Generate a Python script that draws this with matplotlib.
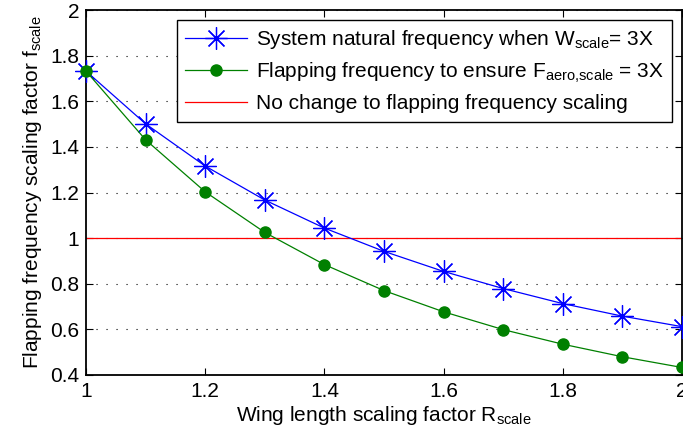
import matplotlib
matplotlib.use("Agg")
import matplotlib.pyplot as plt
from matplotlib.ticker import FixedLocator

plt.rcParams['font.family'] = ['Liberation Sans', 'DejaVu Sans']
plt.rcParams['mathtext.fontset'] = 'custom'
plt.rcParams['mathtext.rm'] = 'Liberation Sans'
plt.rcParams['mathtext.it'] = 'Liberation Sans'

R_scale = [1.0, 1.1, 1.2, 1.3, 1.4, 1.5, 1.6, 1.7, 1.8, 1.9, 2.0]
natural_freq = [1.732, 1.501, 1.316, 1.167, 1.044, 0.942, 0.854, 0.779, 0.713, 0.658, 0.612]
flap_freq = [1.732, 1.431, 1.203, 1.025, 0.884, 0.770, 0.677, 0.599, 0.535, 0.480, 0.433]
no_change = [1.0, 1.0]
no_change_x = [1.0, 2.0]

xticks = [1, 1.2, 1.4, 1.6, 1.8, 2]
xticklabels = ['1', '1.2', '1.4', '1.6', '1.8', '2']
yticks = [0.4, 0.6, 0.8, 1.0, 1.2, 1.4, 1.6, 1.8, 2.0]
yticklabels = ['0.4', '0.6', '0.8', '1', '1.2', '1.4', '1.6', '1.8', '2']

FS = 15

fig = plt.figure(figsize=(6.83, 4.41), dpi=100)
ax = fig.add_axes([86/683, 1-375/441, (682-86)/683, (375-10)/441])

ax.plot(R_scale, natural_freq, color='#0000ff', lw=0.9, marker=(8, 2, 0), ms=16, mew=0.9,
        label='System natural frequency when W$_{\\mathrm{scale}}$= 3X', clip_on=False, zorder=3)
ax.plot(R_scale, flap_freq, color='#008000', lw=0.9, marker='o', ms=8, mfc='#008000', mec='#008000',
        label='Flapping frequency to ensure F$_{\\mathrm{aero{,}scale}}$ = 3X', clip_on=False, zorder=3)
ax.plot(no_change_x, no_change, color='#ff0000', lw=0.9,
        label='No change to flapping frequency scaling', zorder=2)

ax.set_xlim(1, 2)
ax.set_ylim(0.4, 2)
ax.xaxis.set_major_locator(FixedLocator(xticks))
ax.set_xticklabels(xticklabels)
ax.yaxis.set_major_locator(FixedLocator(yticks))
ax.set_yticklabels(yticklabels)
ax.tick_params(direction='in', top=True, right=True, labelsize=FS, length=5, width=0.8, pad=5)
ax.yaxis.grid(True, linestyle=(0, (1, 8)), color='black', lw=0.8)
ax.set_axisbelow(True)
for s in ax.spines.values():
    s.set_linewidth(1.3)

ax.set_xlabel('Wing length scaling factor R$_{\\mathrm{scale}}$', fontsize=FS, labelpad=2)
ax.set_ylabel('Flapping frequency scaling factor f$_{\\mathrm{scale}}$', fontsize=FS, labelpad=4)

leg = ax.legend(loc='upper right', bbox_to_anchor=(672/683, 1-20/441), bbox_transform=fig.transFigure,
                fontsize=FS, fancybox=False, framealpha=1, edgecolor='black', borderpad=0.4,
                handlelength=3.0, labelspacing=0.45, handletextpad=0.4, borderaxespad=0)
leg.get_frame().set_linewidth(1.0)

fig.savefig('out.png', dpi=100)
